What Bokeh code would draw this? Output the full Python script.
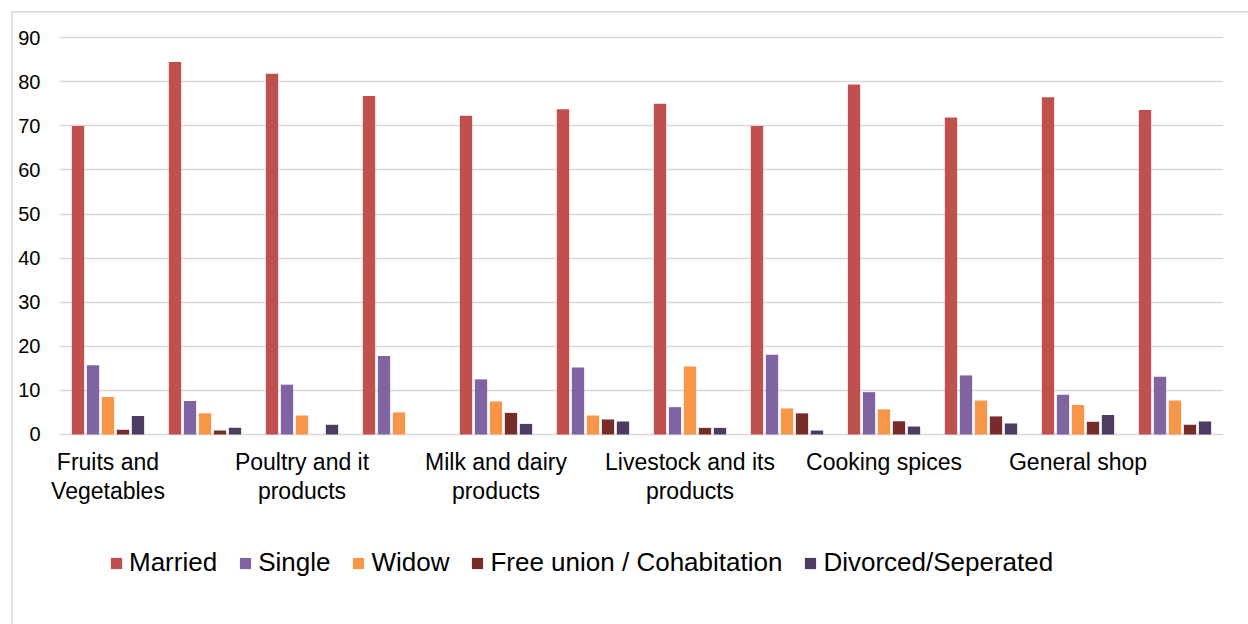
from bokeh.plotting import figure
from bokeh.models import Range1d, FixedTicker, ColumnDataSource, Legend, LegendItem
from bokeh.transform import dodge
from bokeh.embed import file_html
from bokeh.resources import INLINE

# Product categories; each category holds two groups of bars
categories = ["Fruits and\nVegetables", "Poultry and it\nproducts", "Milk and dairy\nproducts",
              "Livestock and its\nproducts", "Cooking spices", "General shop"]

series_names = ["Married", "Single", "Widow", "Free union / Cohabitation", "Divorced/Seperated"]

married = [70.0, 84.5, 81.8, 76.8, 72.3, 73.8, 75.0, 70.0, 79.4, 71.9, 76.5, 73.6]
single = [15.7, 7.6, 11.3, 17.8, 12.5, 15.2, 6.2, 18.1, 9.6, 13.4, 9.0, 13.1]
widow = [8.5, 4.8, 4.3, 5.0, 7.5, 4.3, 15.4, 5.9, 5.7, 7.7, 6.7, 7.7]
free_union = [1.1, 0.9, 0.0, 0.0, 4.9, 3.4, 1.5, 4.8, 3.0, 4.1, 2.9, 2.2]
divorced = [4.2, 1.5, 2.2, 0.0, 2.4, 2.95, 1.5, 0.9, 1.8, 2.5, 4.4, 2.95]

y_ticks = [0, 10, 20, 30, 40, 50, 60, 70, 80, 90]

colors = ["#C0504D", "#8064A2", "#F79646", "#772C2A", "#4E3B62"]

n_groups = len(married)
source = ColumnDataSource(dict(
    x=list(range(n_groups)),
    married=married, single=single, widow=widow,
    free_union=free_union, divorced=divorced,
))

# light chart-area border drawn behind a transparent canvas
border_css = ("linear-gradient(#D9D9D9,#D9D9D9) 11px 11px / 100% 1.5px no-repeat, "
              "linear-gradient(#D9D9D9,#D9D9D9) 11px 11px / 1.5px 100% no-repeat, white")

# the frame runs to the bottom edge so the legend can sit below the category labels,
# and a little left of the first group so the first category label has room;
# the value axis itself only spans 0..90
x_start = -0.5 - 19 / 97
p = figure(width=1248, height=624, output_backend="svg", toolbar_location=None,
           x_range=Range1d(x_start, n_groups - 0.5), y_range=Range1d(-43.1, y_ticks[-1] + 0.5),
           min_border_left=40, min_border_right=25, min_border_top=35, min_border_bottom=0,
           styles={"background": border_css})
p.outline_line_color = None
p.background_fill_color = "white"
p.border_fill_alpha = 0

step = 0.1546
bar_w = 0.127
cols = ["married", "single", "widow", "free_union", "divorced"]
items = []
for i, (col, name, c) in enumerate(zip(cols, series_names, colors)):
    r = p.vbar(x=dodge("x", (i - 2) * step), top=col, width=bar_w, source=source,
               fill_color=c, line_color=None)
    items.append(LegendItem(label=name, renderers=[r]))

# axes
p.xaxis.fixed_location = 0
p.xaxis.ticker = FixedTicker(ticks=[0, 2, 4, 6, 8, 10])
p.xaxis.major_label_overrides = {2 * k: lab for k, lab in enumerate(categories)}
p.xaxis.axis_line_color = None
p.xaxis.major_tick_line_color = None
p.xaxis.minor_tick_line_color = None
p.xaxis.major_tick_out = 0
p.xaxis.major_label_standoff = 15
p.xaxis.major_label_text_font = "Liberation Sans"
p.xaxis.major_label_text_font_size = "23px"
p.xaxis.major_label_text_color = "#000000"
p.xaxis.major_label_text_line_height = 1.08

p.yaxis.ticker = FixedTicker(ticks=y_ticks)
p.yaxis.axis_line_color = None
p.yaxis.major_tick_line_color = None
p.yaxis.minor_tick_line_color = None
p.yaxis.major_tick_out = 0
p.yaxis.major_label_standoff = 0
p.yaxis.major_label_text_font = "Liberation Sans"
p.yaxis.major_label_text_font_size = "20px"
p.yaxis.major_label_text_color = "#000000"

p.xgrid.grid_line_color = None
p.ygrid.ticker = FixedTicker(ticks=y_ticks)
p.ygrid.grid_line_color = "#D9D9D9"
p.ygrid.grid_line_width = 1.3
# horizontal gridlines start at the left edge of the first group slot
if "cross_bounds" in p.ygrid[0].properties():
    p.ygrid.cross_bounds = (-0.5, n_groups - 0.5)

legend = Legend(items=items, orientation="horizontal", location=(69, 46),
                label_text_font="Liberation Sans", label_text_font_size="26px",
                label_text_color="#000000", glyph_width=14, glyph_height=14,
                label_standoff=6, spacing=21, padding=0, margin=0,
                border_line_color=None, background_fill_alpha=0, label_height=28)
p.add_layout(legend, "center")

open("out.html", "w").write(file_html(p, INLINE))
